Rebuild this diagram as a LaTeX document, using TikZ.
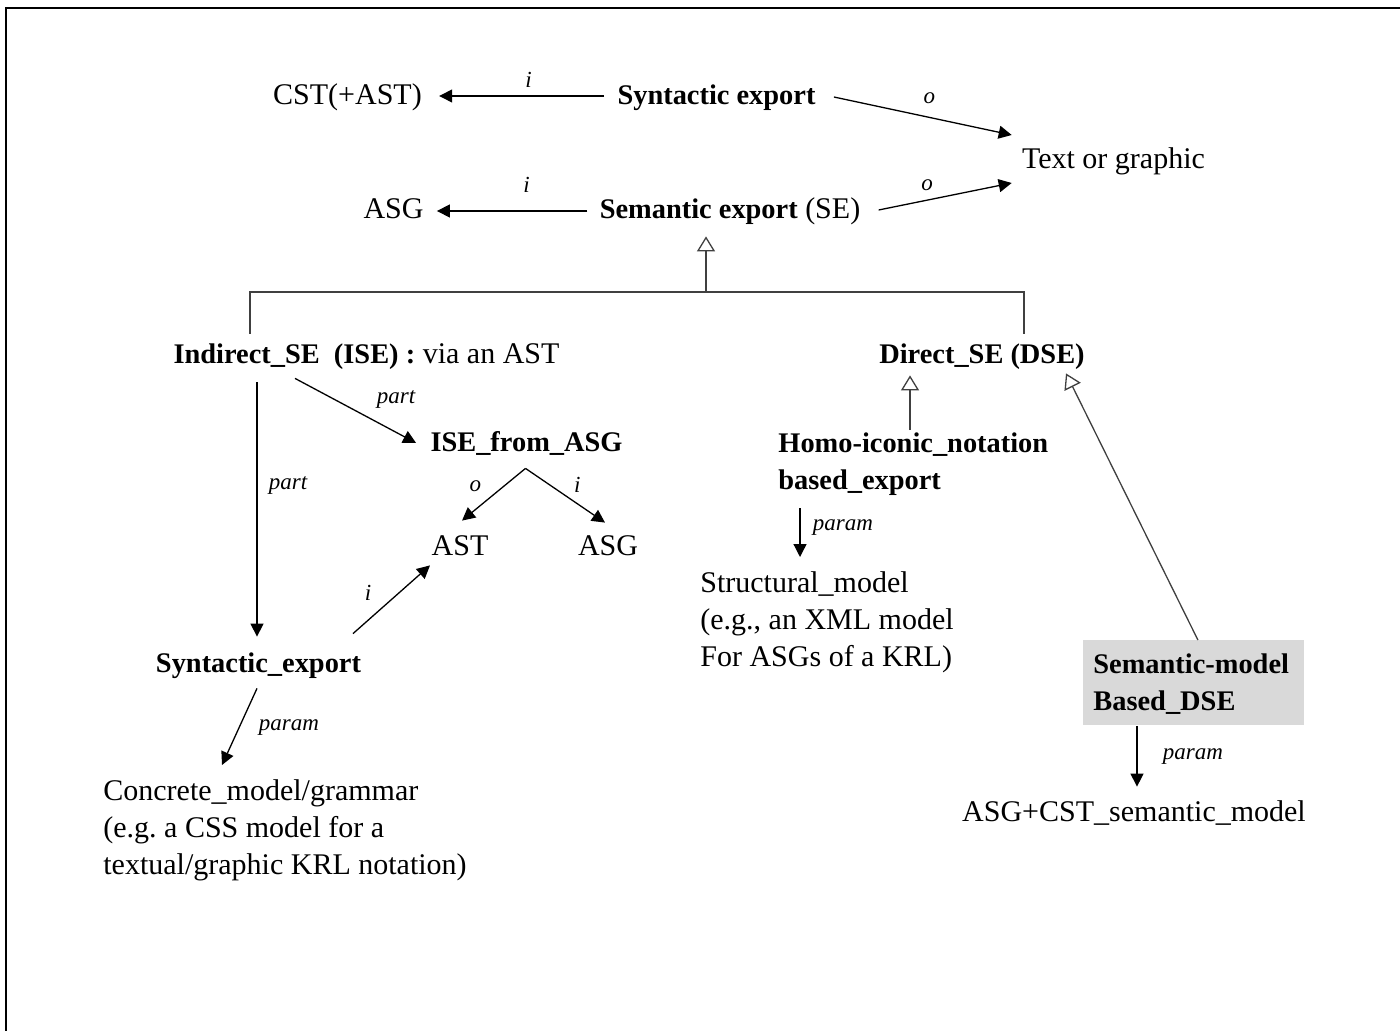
\documentclass[tikz,border=0pt]{standalone}
\usepackage{fontspec}
\setmainfont{Liberation Serif}
\usetikzlibrary{arrows.meta}

\tikzset{
  nf/.style={font=\fontsize{15}{18.5}\selectfont},
  bf/.style={font=\fontsize{14.2}{18.5}\selectfont\bfseries},
  txt/.style={inner sep=0pt, nf, text height=11pt, text depth=2pt},
  multi/.style={inner sep=0pt, align=left, anchor=north west},
  lbl/.style={inner sep=0pt, font=\fontsize{11.5}{13}\selectfont\itshape},
  arr/.style={line width=0.65pt, -{Triangle[length=6.5pt,width=6.5pt]}},
  gen/.style={line width=0.65pt, draw=black!75},
  inh/.style={gen, -{Triangle[open,length=7.5pt,width=9pt,fill=white]}},
}
\newcommand\bt[1]{{\fontsize{14.2}{18.5}\selectfont\bfseries #1}}
\frenchspacing

\begin{document}
\begin{tikzpicture}[x=0.5pt,y=-0.5pt]
\useasboundingbox (0,0) rectangle (1400,1031);
% frame (top and left edges)
\draw[line width=1.1pt] (6,1031) -- (6,8) -- (1400,8);

% concepts
\node[txt] (cst) at (347.5,96) {CST(+AST)};
\node[txt] (synexp) at (716.5,96) {\bt{Syntactic export}};
\node[txt] (txtgr) at (1113.5,160) {Text or graphic};
\node[txt] (asgA) at (393.5,210) {ASG};
\node[txt] (semexp) at (730,210) {\bt{Semantic export} (SE)};
\node[txt] (ise) at (366.5,355) {\bt{Indirect\_SE\ \ (ISE) :} via an AST};
\node[txt] (dse) at (982,355) {\bt{Direct\_SE (DSE)}};
\node[txt] (isefrom) at (526.5,442) {\bt{ISE\_from\_ASG}};
\node[txt] (ast) at (460,546) {AST};
\node[txt] (asgB) at (608,546) {ASG};
\node[txt] (synexp2) at (258.5,663) {\bt{Syntactic\_export}};
\node[multi,bf] (homo) at (778,430) {\rule{0pt}{11pt}Homo-iconic\_notation\\based\_export};
\node[multi,nf] (struct) at (700,570) {\rule{0pt}{11pt}Structural\_model\\(e.g., an XML model\\For ASGs of a KRL)};
\node[multi,nf] (concrete) at (103,778) {\rule{0pt}{11pt}Concrete\_model/grammar\\(e.g. a CSS model for a\\textual/graphic KRL notation)};
\node[bf, fill=black!15, anchor=north west, inner xsep=5pt, inner ysep=5.5pt,
      text width=100.5pt, align=left] (smdse) at (1083,640)
      {\rule{0pt}{11pt}Semantic-model\\Based\_DSE};
\node[txt] (asgcst) at (1134,812) {ASG+CST\_semantic\_model};

% input / output relations
\draw[arr] ([shift={(-13,0)}]synexp.west) -- node[lbl, shift={(7,-16)}] (li1) {i} ([shift={(17,0)}]cst.east);
\draw[arr] ([shift={(18,1)}]synexp.east) -- node[lbl, shift={(6.5,-18)}] (lo1) {o} ([shift={(-10,-25)}]txtgr.west);
\draw[arr] ([shift={(-12,1)}]semexp.west) -- node[lbl, shift={(14.5,-26)}] (li2) {i} ([shift={(13,1)}]asgA.east);
\draw[arr] ([shift={(18,0)}]semexp.east) -- node[lbl, shift={(-18,-11.5)}] (lo2) {o} ([shift={(-10,23)}]txtgr.west);

% specialisation tree
\coordinate (fork) at (706,292);
\draw[gen] ([shift={(-116.5,-8)}]ise.north) |- (fork) -| ([shift={(42,-8)}]dse.north);
\draw[inh] (fork) -- ([shift={(-24,13)}]semexp.south);
\draw[inh] ([shift={(132,0)}]homo.north west) -- ([shift={(-72,7)}]dse.south);
\draw[inh] ([shift={(4,0)}]smdse.north) -- ([shift={(84,5)}]dse.south);

% parts
\draw[arr] ([shift={(-71.5,10)}]ise.south) -- node[lbl, shift={(40.5,-11.5)}] (lp1) {part} ([shift={(-14,1)}]isefrom.west);
\draw[arr] ([shift={(-109.5,14)}]ise.south) -- node[lbl, shift={(31,-24.5)}] (lp2) {part} ([shift={(-1.5,-13)}]synexp2.north);

% ISE_from_ASG outputs / inputs
\draw[arr] ([shift={(-1,13)}]isefrom.south) -- node[lbl, shift={(-18.5,-8)}] (lo3) {o} ([shift={(2,-12)}]ast.north);
\draw[arr] ([shift={(-1,13)}]isefrom.south) -- node[lbl, shift={(12,-10.5)}] (li3) {i} ([shift={(-3,-10)}]asgB.north);
\draw[arr] ([shift={(94.5,-16)}]synexp2.north) -- node[lbl, shift={(-23.5,-6.5)}] (li4) {i} ([shift={(-30,6)}]ast.south);

% parameters
\draw[arr] ([shift={(-1.5,12)}]synexp2.south) -- node[lbl, shift={(49.5,0.5)}] (lpa1) {param} ([shift={(119,-13)}]concrete.north west);
\draw[arr] ([shift={(22,78)}]homo.north west) -- node[lbl, shift={(43,-4.5)}] (lpa2) {param} ([shift={(100,-13)}]struct.north west);
\draw[arr] ([shift={(54,0)}]smdse.south west) -- node[lbl, shift={(56,0)}] (lpa3) {param} ([shift={(3,-12)}]asgcst.north);
\end{tikzpicture}
\end{document}
